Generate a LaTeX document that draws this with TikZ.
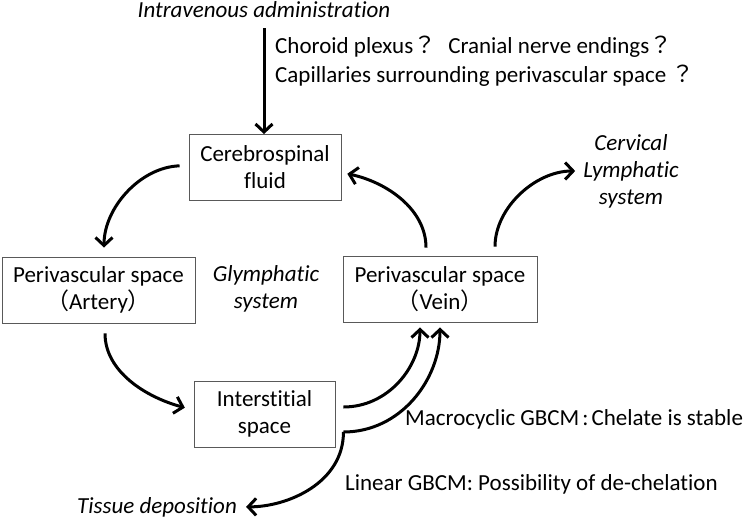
\documentclass[tikz,border=0pt]{standalone}
\usepackage{fontspec}
\setmainfont[Ligatures=NoCommon]{Carlito}
\newfontfamily\cjk{Noto Sans CJK JP}
\usetikzlibrary{arrows.meta}
\newcommand{\fw}[1]{{\cjk #1}}

\begin{document}
\begin{tikzpicture}[x=1pt,y=-1pt,
    every node/.style={font=\fontsize{23}{27}\selectfont,inner sep=0pt},
    box/.style={draw=black!65,line width=.9pt,align=center,minimum height=66pt},
    note/.style={align=center,font=\fontsize{23}{27}\selectfont\itshape},
    flow/.style={line width=3pt,-{Straight Barb[length=8pt,width=17pt]}}]
        \useasboundingbox (0,0) rectangle (746,519);

        %% boxes
        \node[box,minimum width=152pt] (csf) at (265,167.5) {Cerebrospinal\\fluid};
        \node[box,minimum width=193pt] (artery) at (98.5,290) {Perivascular space\\\fw{（}Artery\fw{）}};
        \node[box,minimum width=194pt] (vein) at (440,289) {Perivascular space\\\fw{（}Vein\fw{）}};
        \node[box,minimum width=141pt] (inter) at (264.5,414) {Interstitial\\space};

        %% italic labels
        \node[note,anchor=base] (iv) at (264,18) {Intravenous administration};
        \node[note] (glym) at (266,288.5) {Glymphatic\\system};
        \node[note] (cerv) at (631,171) {Cervical\\Lymphatic\\system};
        \node[note,anchor=base west] (tissue) at (77,513) {Tissue deposition};

        %% routes
        \node[anchor=base west] (route1) at (275,53) {Choroid plexus\fw{？}\hspace{12pt}Cranial nerve endings\fw{？}};
        \node[anchor=base west] (route2) at (275,82) {Capillaries surrounding perivascular space \fw{？}};

        %% GBCM
        \node[anchor=base west] (macro) at (405,425) {Macrocyclic GBCM\hspace{3pt}:\hspace{3pt}Chelate is stable};
        \node[anchor=base west] (linear) at (345,490) {Linear GBCM: Possibility of de-chelation};

        %% arrows
        \coordinate (split) at ([xshift=8pt,yshift=-18pt]inter.east);
        \coordinate (up) at ([xshift=8pt,yshift=7pt]inter.east);

        \draw[flow,shorten <=10pt] (iv.south) -- (iv.south |- csf.north);
        \draw[flow,shorten <=9pt,shorten >=9pt] ([yshift=2pt]csf.west) to[out=182,in=90] ([xshift=5.5pt]artery.north);
        \draw[flow,shorten <=8pt,shorten >=6pt] ([xshift=-14pt]vein.north) to[out=90,in=-12] ([yshift=-5pt]csf.east);
        \draw[flow,shorten <=9pt,shorten >=8pt] ([xshift=55pt]vein.north) to[out=90,in=180] (cerv.west);
        \draw[flow,shorten <=10pt,shorten >=9pt] ([xshift=6.5pt]artery.south) to[out=-90,in=165] ([yshift=4pt]inter.west);
        \draw[flow,shorten >=5pt] (up) to[out=0,in=-90] ([xshift=-20pt]vein.south);
        \draw[flow,shorten >=5pt] (split) to[out=0,in=-90] ([xshift=0pt]vein.south);
        \draw[flow,shorten >=9pt] (split) to[out=-90,in=0] (tissue.east);
\end{tikzpicture}
\end{document}
